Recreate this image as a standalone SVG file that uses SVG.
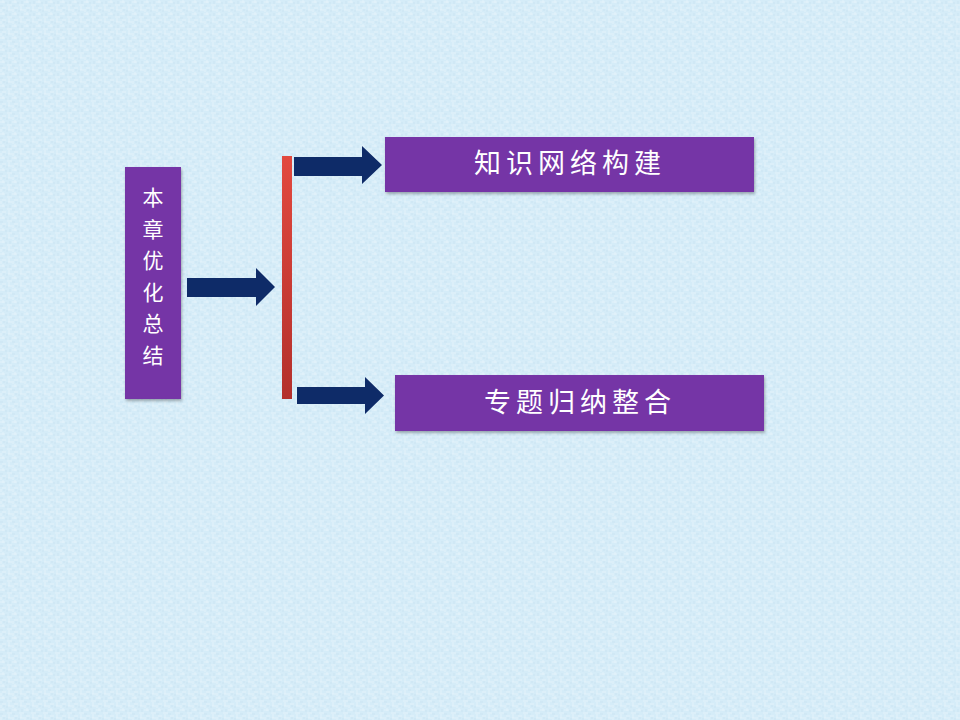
<svg xmlns="http://www.w3.org/2000/svg" width="960" height="720" viewBox="0 0 960 720">
  <defs>
    <pattern id="tex" width="12" height="12" patternUnits="userSpaceOnUse">
      <rect width="12" height="12" fill="#d5ecf8"/>
      <path d="M0 2h5M7 5h5M2 8h4M8 10h4M3 0v3M9 6v4M1 9v3" stroke="#e4f3fb" stroke-width="1" fill="none"/>
      <path d="M5 3h2M0 6h3M6 11h2M10 1v3M4 9v2" stroke="#cbe4f2" stroke-width="1" fill="none"/>
    </pattern>
    <linearGradient id="redbar" x1="0" y1="0" x2="0" y2="1">
      <stop offset="0" stop-color="#e2493f"/>
      <stop offset="1" stop-color="#b3302c"/>
    </linearGradient>
    <filter id="sh" x="-10%" y="-10%" width="120%" height="130%">
      <feDropShadow dx="1" dy="2" stdDeviation="1.5" flood-color="#000" flood-opacity="0.3"/>
    </filter>
    <style>
      .box { fill: #7535a6; filter: url(#sh); }
      .arrow { fill: #0e2b68; }
      .lbl { fill: #ffffff; font-family: "Noto Sans CJK SC", "Noto Sans CJK JP", sans-serif; font-size: 27px; letter-spacing: 5px; }
      .vlbl { fill: #ffffff; font-family: "Noto Sans CJK SC", "Noto Sans CJK JP", sans-serif; font-size: 21px; text-anchor: middle; }
    </style>
  </defs>
  <rect width="960" height="720" fill="url(#tex)"/>

  <g id="node-summary">
    <rect class="box" x="125" y="167" width="56" height="232"/>
    <text class="vlbl" x="153" y="205">本</text>
    <text class="vlbl" x="153" y="236.6">章</text>
    <text class="vlbl" x="153" y="268.2">优</text>
    <text class="vlbl" x="153" y="299.8">化</text>
    <text class="vlbl" x="153" y="331.4">总</text>
    <text class="vlbl" x="153" y="363">结</text>
  </g>

  <g id="node-bracket">
    <rect x="282" y="156" width="10" height="243" fill="url(#redbar)"/>
  </g>

  <g id="node-knowledge">
    <rect class="box" x="385" y="137" width="369" height="55"/>
    <text class="lbl" x="570" y="173" text-anchor="middle">知识网络构建</text>
  </g>

  <g id="node-topics">
    <rect class="box" x="395" y="375" width="369" height="56"/>
    <text class="lbl" x="580" y="412" text-anchor="middle">专题归纳整合</text>
  </g>

  <g id="connectors">
    <path class="arrow" d="M187 278 H256 V268 L275 287 L256 306 V297 H187 Z"/>
    <path class="arrow" d="M294 157 H362 V146 L382 165 L362 184 V176 H294 Z"/>
    <path class="arrow" d="M297 387 H365 V377 L384 395.5 L365 414 V404 H297 Z"/>
  </g>
</svg>
